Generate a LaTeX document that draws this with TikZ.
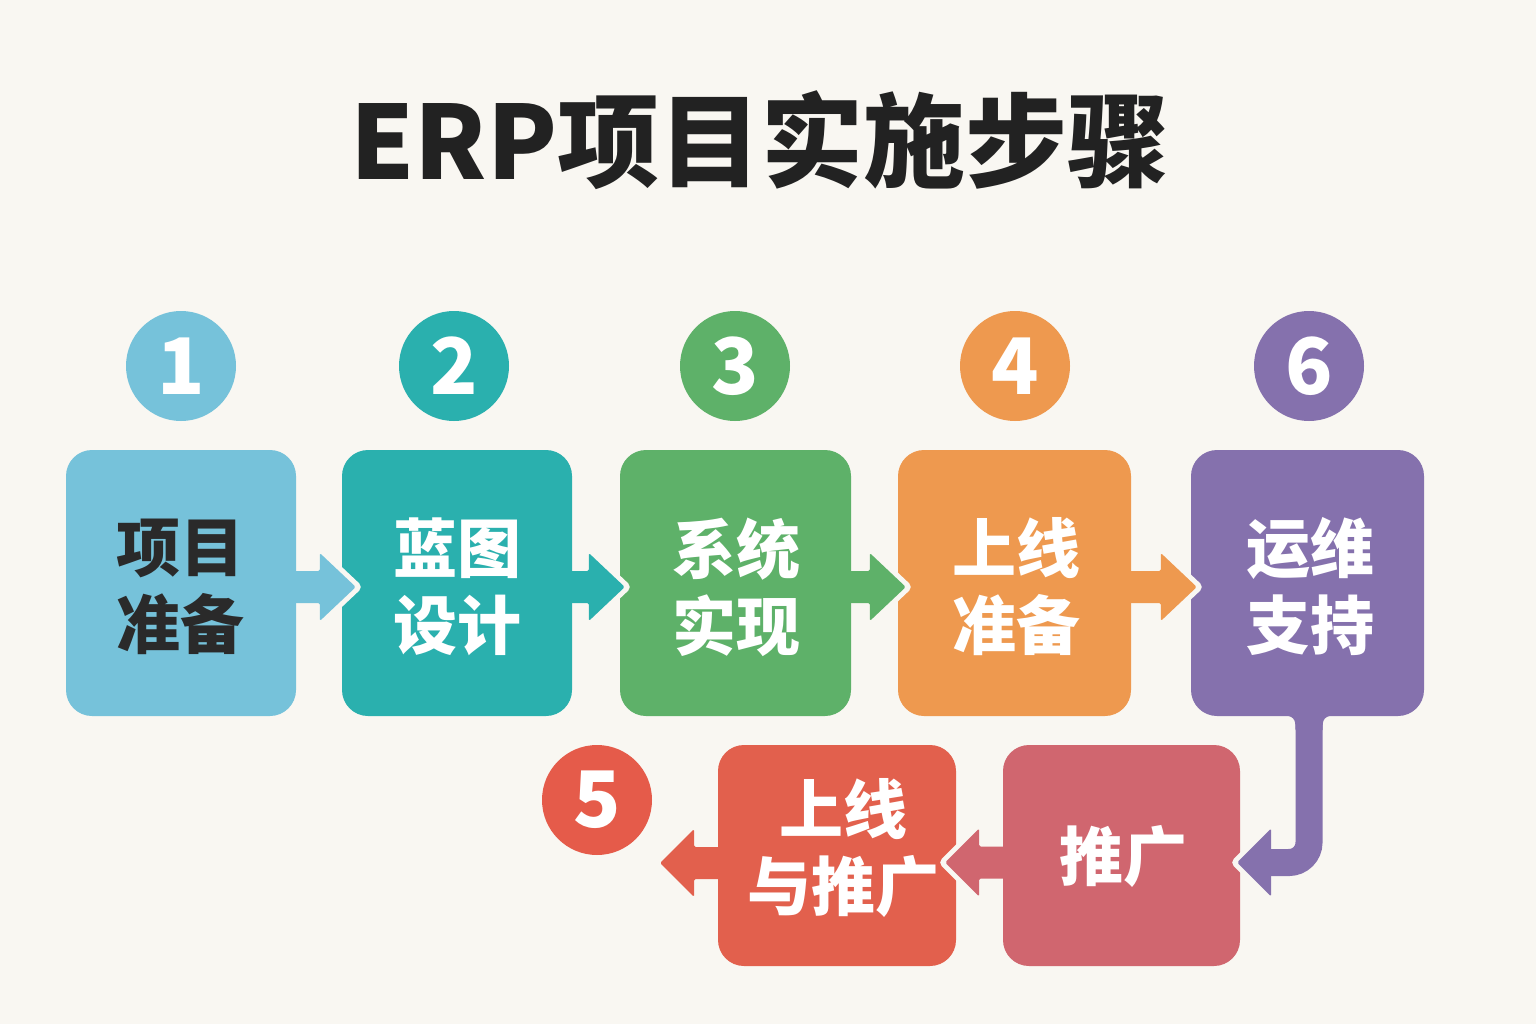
\documentclass[tikz,border=0pt]{standalone}
\usepackage{fontspec}
\newfontfamily\cjk{Noto Sans CJK SC}
\usetikzlibrary{calc}
\definecolor{bgc}{HTML}{F9F7F2}
\definecolor{titlec}{HTML}{222222}
\definecolor{darktext}{HTML}{2A2A2A}
\definecolor{cA}{HTML}{76C2DA}
\definecolor{cB}{HTML}{2AB0AE}
\definecolor{cC}{HTML}{5EB169}
\definecolor{cD}{HTML}{EE994F}
\definecolor{cF}{HTML}{8571AD}
\definecolor{cG}{HTML}{D0666F}
\definecolor{cE}{HTML}{E2604D}
\definecolor{cEc}{HTML}{E55B4A}
\tikzset{
  box/.style={rectangle, rounded corners=26pt, minimum height=266pt, inner sep=0pt},
  btext/.style={align=center, inner sep=0pt, font=\cjk\bfseries\fontsize{64}{77}\selectfont, text=white},
  lowbox/.style={box, minimum height=221pt, minimum width=237pt},
  num/.style={circle, minimum size=110pt, inner sep=0pt,
    font=\cjk\bfseries\fontsize{78}{78}\selectfont, text=white},
  halo/.style={draw=bgc, line width=10pt, line join=round},
}
% right-pointing block arrow: colour, start, tip (named coordinates)
\newcommand\rarr[3]{%
  \draw[halo] ($(#3)+(-36,-34)$) -- (#3) -- ($(#3)+(-36,34)$) -- cycle;
  \fill[#1, rounded corners=1.5pt] ($(#2 |- #3)+(-6,-16)$) -- ($(#3)+(-36,-16)$) -- ($(#3)+(-36,-34)$)
    -- (#3) -- ($(#3)+(-36,34)$) -- ($(#3)+(-36,16)$) -- ($(#2 |- #3)+(-6,16)$) -- cycle;}
% left-pointing block arrow: colour, start, tip (named coordinates)
\newcommand\larr[3]{%
  \draw[halo] ($(#3)+(34,-34)$) -- (#3) -- ($(#3)+(34,34)$) -- cycle;
  \fill[#1, rounded corners=1.5pt] ($(#2 |- #3)+(6,-16)$) -- ($(#3)+(34,-16)$) -- ($(#3)+(34,-34)$)
    -- (#3) -- ($(#3)+(34,34)$) -- ($(#3)+(34,16)$) -- ($(#2 |- #3)+(6,16)$) -- cycle;}
\begin{document}
\begin{tikzpicture}[x=1pt,y=-1pt]
\fill[bgc] (0,0) rectangle (1536,1024);
\useasboundingbox (0,0) rectangle (1536,1024);

\node[font=\cjk\bfseries\fontsize{102}{102}\selectfont, text=titlec] (title) at (760,140) {ERP项目实施步骤};

% top row boxes
\node[box, fill=cA, minimum width=230pt] (b1) at (181,583) {};
\node[box, fill=cB, minimum width=230pt] (b2) at (457,583) {};
\node[box, fill=cC, minimum width=231pt] (b3) at (735.5,583) {};
\node[box, fill=cD, minimum width=233pt] (b4) at (1014.5,583) {};
\node[box, fill=cF, minimum width=233pt] (b6) at (1307.5,583) {};
\node[btext, text=darktext] (t1) at (180,587) {项目\\准备};
\node[btext] (t2) at (457,587) {蓝图\\设计};
\node[btext] (t3) at (736,587) {系统\\实现};
\node[btext] (t4) at (1016,587) {上线\\准备};
\node[btext] (t6) at (1310,587) {运维\\支持};
% bottom row boxes
\node[lowbox, fill=cG] (b7) at (1121.5,855.5) {};
\node[btext] (t7) at (1123,856) {推广};
\node[lowbox, fill=cE, minimum width=238pt] (b5) at (837,855.5) {};
\node[btext] (t5) at (843,848) {上线\\与推广};

% number circles
\node[num, fill=cA] (n1) at (181,366) {1};
\node[num, fill=cB] (n2) at (454,366) {2};
\node[num, fill=cC] (n3) at (735,366) {3};
\node[num, fill=cD] (n4) at (1015,366) {4};
\node[num, fill=cF] (n6) at (1309,366) {6};
\node[num, fill=cEc] (n5) at (597,800) {5};

% arrow tips
\coordinate (t12) at ($(b2.west)+(14,4)$);
\coordinate (t23) at ($(b3.west)+(5,4)$);
\coordinate (t34) at ($(b4.west)+(8,4)$);
\coordinate (t46) at ($(b6.west)+(6,4)$);
\coordinate (t75) at ($(b5.east)+(-11,7)$);
\coordinate (ph) at ($(b7.east)+(-3,7)$);
\coordinate (e5) at (660,863);

% arrows between top boxes
\rarr{cA}{b1.east}{t12}
\rarr{cB}{b2.east}{t23}
\rarr{cC}{b3.east}{t34}
\rarr{cD}{b4.east}{t46}

% purple connector down to bottom row
\draw[halo] ($(ph)+(34,-34)$) -- (ph) -- ($(ph)+(34,34)$) -- cycle;
\draw[cF, line width=27pt, rounded corners=20pt] ($(b6.south)+(1.5,-12)$) -- ($(b6.south |- ph)+(1.5,0)$) -- ($(ph)+(30,0)$);
\fill[cF] ($(b6.south)+(-28,-2)$) -- ($(b6.south)+(31,-2)$)
  .. controls ($(b6.south)+(16,0)$) and ($(b6.south)+(15,2)$) .. ($(b6.south)+(15,14)$)
  -- ($(b6.south)+(-12,14)$)
  .. controls ($(b6.south)+(-12,2)$) and ($(b6.south)+(-13,0)$) .. ($(b6.south)+(-28,-2)$) -- cycle;
\fill[cF, rounded corners=1.5pt] ($(ph)+(34,-34)$) -- (ph) -- ($(ph)+(34,34)$) -- cycle;

% bottom row arrows
\larr{cG}{b7.west}{t75}
\larr{cE}{b5.west}{e5}
\end{tikzpicture}
\end{document}
